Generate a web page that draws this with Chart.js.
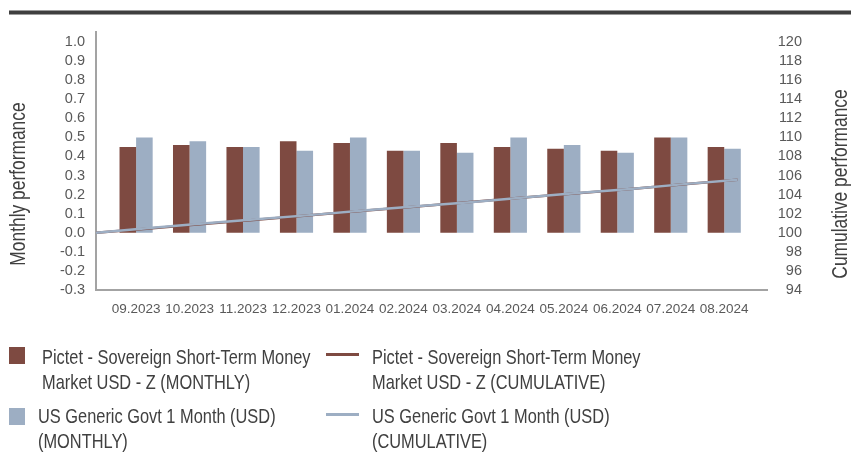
<!DOCTYPE html>
<html>
<head>
<meta charset="utf-8">
<script src="https://cdn.jsdelivr.net/npm/chart.js@4.4.1/dist/chart.umd.min.js"></script>
<style>
  html, body { margin: 0; padding: 0; background: #ffffff; width: 851px; height: 455px; overflow: hidden; }
  #topbar { position: absolute; left: 9px; right: 0; top: 10px; height: 3px; background: #3f3f3f; border-top: 1px solid #9c9c9c; border-bottom: 1px solid #9c9c9c; }
  #chartBox { position: absolute; left: 0; top: 0; width: 851px; height: 325px; }
  #legend { position: absolute; left: 0; top: 0; width: 851px; height: 455px; pointer-events: none;
            font-family: "Liberation Sans", Arial, sans-serif; color: #404040; }
  .lg-text { position: absolute; width: 360px; font-size: 21px; line-height: 25px; white-space: normal;
             transform: scaleX(0.78); transform-origin: 0 0; }
  .lg-sw { position: absolute; }
</style>
</head>
<body>
<div id="topbar"></div>
<div id="chartBox"><canvas id="c" width="851" height="325"></canvas></div>
<div id="legend"></div>
<script>
// ---- data ----
const months = ["09.2023", "10.2023", "11.2023", "12.2023", "01.2024", "02.2024",
                "03.2024", "04.2024", "05.2024", "06.2024", "07.2024", "08.2024"];
const fundMonthly  = [0.45, 0.46, 0.45, 0.48, 0.47, 0.43, 0.47, 0.45, 0.44, 0.43, 0.50, 0.45];
const benchMonthly = [0.50, 0.48, 0.45, 0.43, 0.50, 0.43, 0.42, 0.50, 0.46, 0.42, 0.50, 0.44];
// cumulative index (base 100), one point before the first month plus one per month
const fundCumulative  = [100, 100.45, 100.91, 101.36, 101.84, 102.32, 102.76, 103.23, 103.69, 104.14, 104.58, 105.08, 105.55];
const benchCumulative = [100, 100.49, 100.97, 101.42, 101.85, 102.34, 102.77, 103.20, 103.70, 104.17, 104.60, 105.10, 105.56];
const seriesNames = [
  "Pictet - Sovereign Short-Term Money Market USD - Z (MONTHLY)",
  "Pictet - Sovereign Short-Term Money Market USD - Z (CUMULATIVE)",
  "US Generic Govt 1 Month (USD) (MONTHLY)",
  "US Generic Govt 1 Month (USD) (CUMULATIVE)"
];
const leftAxisTitle = "Monthly performance";
const rightAxisTitle = "Cumulative performance";
const leftRange = { min: -0.3, max: 1.0, step: 0.1 };
const rightRange = { min: 94, max: 120, step: 2 };

// ---- styles ----
const BROWN = "#7e4a41";
const BLUE = "#9daec3";
const AXIS = "#a3a3a3";
const TICK = "#595959";
const FONT = '"Liberation Sans", Arial, sans-serif';
const barOffset = 0.75;   // bars sit between the cumulative points
const xMax = 12.55;

const barPts = (arr) => arr.map((v, i) => ({ x: i + barOffset, y: v }));
const linePts = (arr) => arr.map((v, i) => ({ x: i, y: v }));

const extrasPlugin = {
  id: 'extras',
  afterDraw(chart) {
    const { ctx, chartArea } = chart;
    ctx.save();
    // left axis line extends a bit above the plot
    ctx.strokeStyle = AXIS;
    ctx.lineWidth = 2;
    ctx.beginPath();
    ctx.moveTo(chartArea.left, chartArea.top - 11);
    ctx.lineTo(chartArea.left, chartArea.top + 1);
    ctx.stroke();
    // rotated axis titles (condensed look)
    ctx.fillStyle = "#404040";
    ctx.font = '22px ' + FONT;
    ctx.textAlign = 'center';
    ctx.textBaseline = 'middle';
    const cy = (chartArea.top + chartArea.bottom) / 2 + 18;
    [[leftAxisTitle, 19], [rightAxisTitle, 841]].forEach(([t, x]) => {
      ctx.save();
      ctx.translate(x, cy);
      ctx.rotate(-Math.PI / 2);
      ctx.scale(0.79, 1);
      ctx.fillText(t, 0, 0);
      ctx.restore();
    });
    ctx.restore();
  }
};

const chart = new Chart(document.getElementById('c'), {
  type: 'bar',
  data: {
    datasets: [
      { type: 'bar', label: seriesNames[0], data: barPts(fundMonthly), backgroundColor: BROWN,
        xAxisID: 'x', yAxisID: 'y', order: 2, barPercentage: 1, categoryPercentage: 0.62 },
      { type: 'bar', label: seriesNames[2], data: barPts(benchMonthly), backgroundColor: BLUE,
        xAxisID: 'x', yAxisID: 'y', order: 2, barPercentage: 1, categoryPercentage: 0.62 },
      { type: 'line', label: seriesNames[1], data: linePts(fundCumulative), borderColor: BROWN,
        borderWidth: 2.5, pointRadius: 0, tension: 0, xAxisID: 'x', yAxisID: 'y1', order: 1 },
      { type: 'line', label: seriesNames[3], data: linePts(benchCumulative), borderColor: BLUE,
        borderWidth: 2.5, pointRadius: 0, tension: 0, xAxisID: 'x', yAxisID: 'y1', order: 0 }
    ]
  },
  options: {
    responsive: false,
    animation: false,
    devicePixelRatio: 1,
    layout: { padding: { left: 0, right: 49, top: 42, bottom: 0 } },
    plugins: { legend: { display: false }, tooltip: { enabled: false } },
    scales: {
      x: {
        type: 'linear', position: 'bottom', min: 0, max: xMax, offset: false,
        grid: { display: false, drawTicks: false },
        border: { display: true, color: AXIS, width: 2 },
        afterBuildTicks: (s) => { s.ticks = months.map((m, i) => ({ value: i + barOffset })); },
        ticks: { autoSkip: false, maxRotation: 0, padding: 11, color: TICK,
                 font: { family: FONT, size: 13.5 },
                 callback: (v, i) => months[i] },
        afterFit: (s) => { s.height = 35; }
      },
      y: {
        position: 'left', min: leftRange.min, max: leftRange.max,
        grid: { display: false, drawTicks: false },
        border: { display: true, color: AXIS, width: 2 },
        ticks: { stepSize: leftRange.step, padding: 11, color: TICK, autoSkip: false, maxTicksLimit: 30,
                 font: { family: FONT, size: 14.5, lineHeight: 1 },
                 callback: (v) => v.toFixed(1) },
        afterFit: (s) => { s.width = 96; }
      },
      y1: {
        position: 'right', min: rightRange.min, max: rightRange.max,
        grid: { display: false, drawOnChartArea: false, drawTicks: false },
        border: { display: false },
        ticks: { stepSize: rightRange.step, padding: 12, color: TICK, crossAlign: 'far',
                 autoSkip: false, maxTicksLimit: 30,
                 font: { family: FONT, size: 14.5, lineHeight: 1 } },
        afterFit: (s) => { s.width = 35; }
      }
    }
  },
  plugins: [extrasPlugin]
});

// ---- HTML legend built from the series ----
const legend = document.getElementById('legend');
const legendItems = [
  { name: seriesNames[0], color: BROWN, kind: 'box',  sx: 9,   sy: 347, tx: 42,  ty: 344 },
  { name: seriesNames[1], color: BROWN, kind: 'line', sx: 326, sy: 353, tx: 372, ty: 344 },
  { name: seriesNames[2], color: BLUE,  kind: 'box',  sx: 9,   sy: 408, tx: 38,  ty: 403 },
  { name: seriesNames[3], color: BLUE,  kind: 'line', sx: 326, sy: 413, tx: 372, ty: 403 }
];
legendItems.forEach(it => {
  const sw = document.createElement('div');
  sw.className = 'lg-sw';
  sw.style.left = it.sx + 'px';
  sw.style.top = it.sy + 'px';
  sw.style.width = (it.kind === 'box' ? 16 : 33) + 'px';
  sw.style.height = (it.kind === 'box' ? 17 : 3) + 'px';
  sw.style.background = it.color;
  legend.appendChild(sw);
  const tx = document.createElement('div');
  tx.className = 'lg-text';
  tx.style.left = it.tx + 'px';
  tx.style.top = it.ty + 'px';
  tx.textContent = it.name;
  legend.appendChild(tx);
});
</script>
</body>
</html>
